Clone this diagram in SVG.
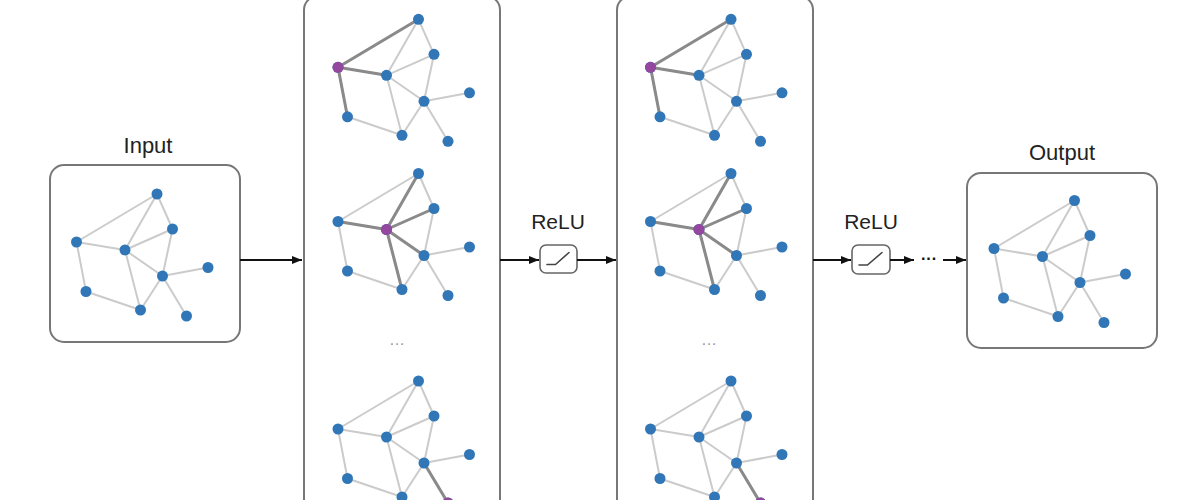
<svg xmlns="http://www.w3.org/2000/svg" width="1200" height="500" viewBox="0 0 1200 500">
<style>
.box{fill:#fff;stroke:#777;stroke-width:2}
.e{stroke:#cbcbcb;stroke-width:2;stroke-linecap:round}
.h{stroke:#8a8a8a;stroke-width:3;stroke-linecap:round}
.n{fill:#3176b6}
.p{fill:#93479e}
.lbl{font-family:"Liberation Sans",Arial,sans-serif;font-size:22px;fill:#222;text-anchor:middle}
.rl{font-family:"Liberation Sans",Arial,sans-serif;font-size:21px;fill:#222;text-anchor:middle}
.dots{font-family:"Liberation Sans",Arial,sans-serif;font-size:16px;fill:#999;text-anchor:middle}
.conn{stroke:#111;stroke-width:2;fill:none;marker-end:url(#arr)}
.relu{fill:#fff;stroke:#666;stroke-width:1.6}
.glyph{fill:none;stroke:#444;stroke-width:1.6;stroke-linecap:round;stroke-linejoin:round}
</style>
<defs>
<marker id="arr" viewBox="0 0 10 8" refX="10" refY="4" markerWidth="10" markerHeight="8" markerUnits="userSpaceOnUse" orient="auto">
<path d="M0,0 L10,4 L0,8 Z" fill="#111"/>
</marker>
<g id="edges">
<line class="e" x1="157" y1="194" x2="76.5" y2="242"/>
<line class="e" x1="157" y1="194" x2="125" y2="250"/>
<line class="e" x1="157" y1="194" x2="172.5" y2="229"/>
<line class="e" x1="172.5" y1="229" x2="125" y2="250"/>
<line class="e" x1="172.5" y1="229" x2="162.5" y2="276"/>
<line class="e" x1="76.5" y1="242" x2="125" y2="250"/>
<line class="e" x1="76.5" y1="242" x2="86" y2="291.5"/>
<line class="e" x1="125" y1="250" x2="162.5" y2="276"/>
<line class="e" x1="125" y1="250" x2="140.5" y2="310"/>
<line class="e" x1="162.5" y1="276" x2="140.5" y2="310"/>
<line class="e" x1="162.5" y1="276" x2="208" y2="267.5"/>
<line class="e" x1="162.5" y1="276" x2="186.5" y2="316"/>
<line class="e" x1="86" y1="291.5" x2="140.5" y2="310"/>
</g>
<g id="nodes">
<circle class="n" cx="157" cy="194" r="5.5"/>
<circle class="n" cx="172.5" cy="229" r="5.5"/>
<circle class="n" cx="76.5" cy="242" r="5.5"/>
<circle class="n" cx="125" cy="250" r="5.5"/>
<circle class="n" cx="162.5" cy="276" r="5.5"/>
<circle class="n" cx="208" cy="267.5" r="5.5"/>
<circle class="n" cx="86" cy="291.5" r="5.5"/>
<circle class="n" cx="140.5" cy="310" r="5.5"/>
<circle class="n" cx="186.5" cy="316" r="5.5"/>
</g>
</defs>
<rect width="1200" height="500" fill="#fff"/>

<g id="input">
<text class="lbl" x="148" y="153">Input</text>
<rect class="box" x="50" y="165" width="190" height="177" rx="14"/>
<use href="#edges"/>
<use href="#nodes"/>
</g>

<g id="layer1">
<rect class="box" x="304" y="-4" width="196" height="530" rx="14"/>
<g transform="translate(261.5,-174.7)">
<use href="#edges"/>
<line class="h" x1="76.5" y1="242" x2="157" y2="194"/>
<line class="h" x1="76.5" y1="242" x2="125" y2="250"/>
<line class="h" x1="76.5" y1="242" x2="86" y2="291.5"/>
<use href="#nodes"/>
<circle class="p" cx="76.5" cy="242" r="5.5"/>
</g>
<g transform="translate(261.5,-20.5)">
<use href="#edges"/>
<line class="h" x1="125" y1="250" x2="157" y2="194"/>
<line class="h" x1="125" y1="250" x2="172.5" y2="229"/>
<line class="h" x1="125" y1="250" x2="76.5" y2="242"/>
<line class="h" x1="125" y1="250" x2="162.5" y2="276"/>
<line class="h" x1="125" y1="250" x2="140.5" y2="310"/>
<use href="#nodes"/>
<circle class="p" cx="125" cy="250" r="5.5"/>
</g>
<text class="dots" x="397" y="345">…</text>
<g transform="translate(261.5,187)">
<use href="#edges"/>
<line class="h" x1="162.5" y1="276" x2="186.5" y2="316"/>
<use href="#nodes"/>
<circle class="p" cx="186.5" cy="316" r="5.5"/>
</g>
</g>

<g id="relu1">
<text class="rl" x="558" y="229">ReLU</text>
<rect class="relu" x="540" y="245" width="37" height="28" rx="6"/>
<polyline class="glyph" points="547,264.5 555.5,264.5 569,252.5"/>
</g>

<g id="layer2">
<rect class="box" x="617" y="-4" width="196" height="530" rx="14"/>
<g transform="translate(574,-174.7)">
<use href="#edges"/>
<line class="h" x1="76.5" y1="242" x2="157" y2="194"/>
<line class="h" x1="76.5" y1="242" x2="125" y2="250"/>
<line class="h" x1="76.5" y1="242" x2="86" y2="291.5"/>
<use href="#nodes"/>
<circle class="p" cx="76.5" cy="242" r="5.5"/>
</g>
<g transform="translate(574,-20.5)">
<use href="#edges"/>
<line class="h" x1="125" y1="250" x2="157" y2="194"/>
<line class="h" x1="125" y1="250" x2="172.5" y2="229"/>
<line class="h" x1="125" y1="250" x2="76.5" y2="242"/>
<line class="h" x1="125" y1="250" x2="162.5" y2="276"/>
<line class="h" x1="125" y1="250" x2="140.5" y2="310"/>
<use href="#nodes"/>
<circle class="p" cx="125" cy="250" r="5.5"/>
</g>
<text class="dots" x="709" y="345">…</text>
<g transform="translate(574,187)">
<use href="#edges"/>
<line class="h" x1="162.5" y1="276" x2="186.5" y2="316"/>
<use href="#nodes"/>
<circle class="p" cx="186.5" cy="316" r="5.5"/>
</g>
</g>

<g id="relu2">
<text class="rl" x="871" y="229">ReLU</text>
<rect class="relu" x="852" y="245" width="38" height="29" rx="6"/>
<polyline class="glyph" points="859,265 867.5,265 882,252.5"/>
</g>

<g id="output">
<text class="lbl" x="1062" y="160">Output</text>
<rect class="box" x="967" y="173" width="190" height="175" rx="14"/>
<g transform="translate(917.5,6.5)">
<use href="#edges"/>
<use href="#nodes"/>
</g>
</g>

<g id="connectors">
<line class="conn" x1="240" y1="260" x2="302" y2="260"/>
<line class="conn" x1="500" y1="260" x2="539" y2="260"/>
<line class="conn" x1="577" y1="260" x2="616" y2="260"/>
<line class="conn" x1="813" y1="260" x2="851" y2="260"/>
<line class="conn" x1="890" y1="260" x2="914" y2="260"/>
<text x="929" y="264" style="font-family:'Liberation Sans',Arial,sans-serif;font-size:16px;fill:#111;text-anchor:middle;font-weight:bold">···</text>
<line class="conn" x1="943" y1="260" x2="966" y2="260"/>
</g>
</svg>
